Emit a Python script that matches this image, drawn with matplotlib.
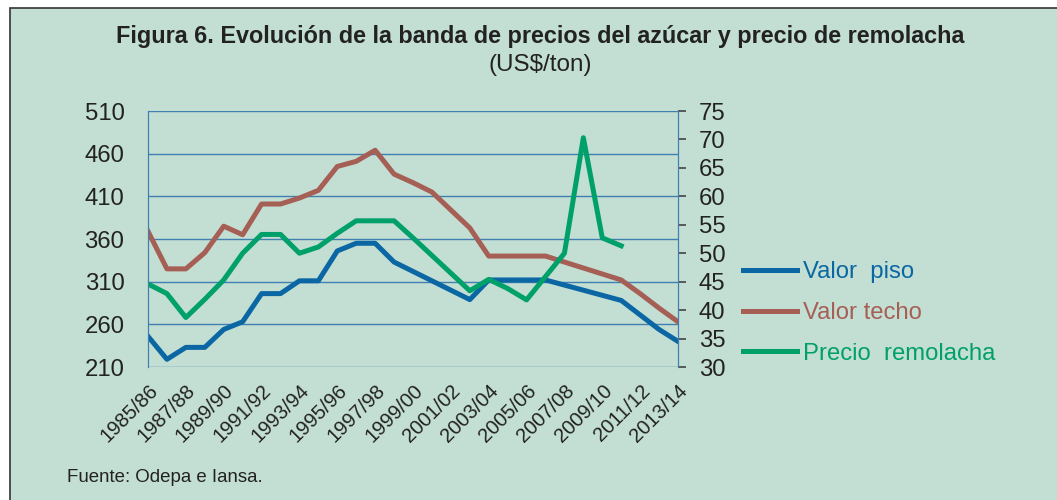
import matplotlib.pyplot as plt
import matplotlib.patches as mpatches
import numpy as np

# Datos de la figura (US$/ton)
temporadas = ['1985/86', '1986/87', '1987/88', '1988/89', '1989/90', '1990/91',
              '1991/92', '1992/93', '1993/94', '1994/95', '1995/96', '1996/97',
              '1997/98', '1998/99', '1999/00', '2000/01', '2001/02', '2002/03',
              '2003/04', '2004/05', '2005/06', '2006/07', '2007/08', '2008/09',
              '2009/10', '2010/11', '2011/12', '2012/13', '2013/14']

valor_piso = [246, 219, 233, 233, 254, 263, 296, 296, 311, 311, 346, 355, 355,
              333, 322, 311, 300, 289, 312, 312, 312, 312, 306, 300, 294, 288,
              271, 254, 240]

valor_techo = [369, 325, 325, 344, 375, 365, 401, 401, 408, 417, 445, 451, 464,
               436, 426, 415, 394, 373, 340, 340, 340, 340, 333, 326, 319, 312,
               296, 279, 263]

# eje derecho
precio_remolacha = [44.6, 42.9, 38.7, 41.9, 45.3, 50.0, 53.3, 53.3, 50.0, 51.1,
                    53.5, 55.7, 55.7, 55.7, 52.7, 49.6, 46.5, 43.4, 45.4, 43.8,
                    41.8, 45.9, 50.0, 70.3, 52.7, 51.3, np.nan, np.nan, np.nan]

ticks_izq = [210, 260, 310, 360, 410, 460, 510]
ticks_der = [30, 35, 40, 45, 50, 55, 60, 65, 70, 75]

# Colores
fondo = '#c3ded3'
azul = '#0a67a3'
rojo = '#a65f55'
verde = '#00a06b'
grilla = '#3f80b0'

plt.rcParams['font.family'] = ['Liberation Sans', 'DejaVu Sans']

fig = plt.figure(figsize=(10.57, 5.0), dpi=100)
fig.patch.set_facecolor('white')

# Marco de fondo (detrás de todo)
marco = mpatches.Rectangle((10 / 1057, -0.1), 1.1, 1.1 - 8 / 500, transform=fig.transFigure,
                           facecolor=fondo, edgecolor='#333333', linewidth=1.2, zorder=-10)
fig.patches.append(marco)

ax = fig.add_axes([148 / 1057, 1 - 367 / 500, (678 - 148) / 1057, (367 - 111) / 500])
ax.set_facecolor('none')
ax2 = ax.twinx()
ax2.set_facecolor('none')

x = np.arange(len(temporadas))
l1, = ax.plot(x, valor_piso, color=azul, linewidth=3.6, zorder=3)
l2, = ax.plot(x, valor_techo, color=rojo, linewidth=3.6, zorder=3)
l3, = ax2.plot(x, precio_remolacha, color=verde, linewidth=3.6)

ax.set_xlim(0, len(temporadas) - 1)
ax.set_ylim(210, 510)
ax2.set_ylim(30, 75)
ax.set_yticks(ticks_izq)
ax2.set_yticks(ticks_der)

ax.yaxis.grid(True, color=grilla, linewidth=1.0)
ax.set_axisbelow(True)

ax.set_xticks(x[::2])
ax.set_xticklabels(temporadas[::2], rotation=45, ha='right', rotation_mode='anchor',
                   fontsize=14.5, color='#222222')
ax.tick_params(axis='x', length=0, pad=10)
ax.tick_params(axis='y', length=0, pad=17, labelsize=17.2, labelcolor='#222222')
ax2.tick_params(axis='y', length=6, width=1.2, color='#444444', pad=9,
                labelsize=17.2, labelcolor='#222222')

for a in (ax, ax2):
    for s in a.spines.values():
        s.set_visible(False)
    a.spines['left'].set_visible(True)
    a.spines['right'].set_visible(True)
    a.spines['left'].set_color(grilla)
    a.spines['right'].set_color(grilla)

# Títulos
fig.text(540 / 1057, 1 - 37 / 500, 'Figura 6. Evolución de la banda de precios del azúcar y precio de remolacha',
         ha='center', va='center', fontsize=16.8, fontweight='bold', color='#222222')
fig.text(540 / 1057, 1 - 65 / 500, '(US$/ton)', ha='center', va='center',
         fontsize=17.5, color='#222222')

# Leyenda
ley = fig.legend([l1, l2, l3], ['Valor  piso', 'Valor techo', 'Precio  remolacha'],
                 loc='center left', bbox_to_anchor=(743 / 1057, 1 - 313 / 500),
                 frameon=False, fontsize=17.2, handlelength=2.26, handletextpad=0.25,
                 labelspacing=0.78, borderpad=0, borderaxespad=0)
for txt, col in zip(ley.get_texts(), [azul, rojo, verde]):
    txt.set_color(col)

fig.text(67 / 1057, 1 - 478 / 500, 'Fuente: Odepa e Iansa.', ha='left', va='center',
         fontsize=13.4, color='#222222')

plt.savefig('out.png', dpi=100, facecolor=fig.get_facecolor())
plt.close()
